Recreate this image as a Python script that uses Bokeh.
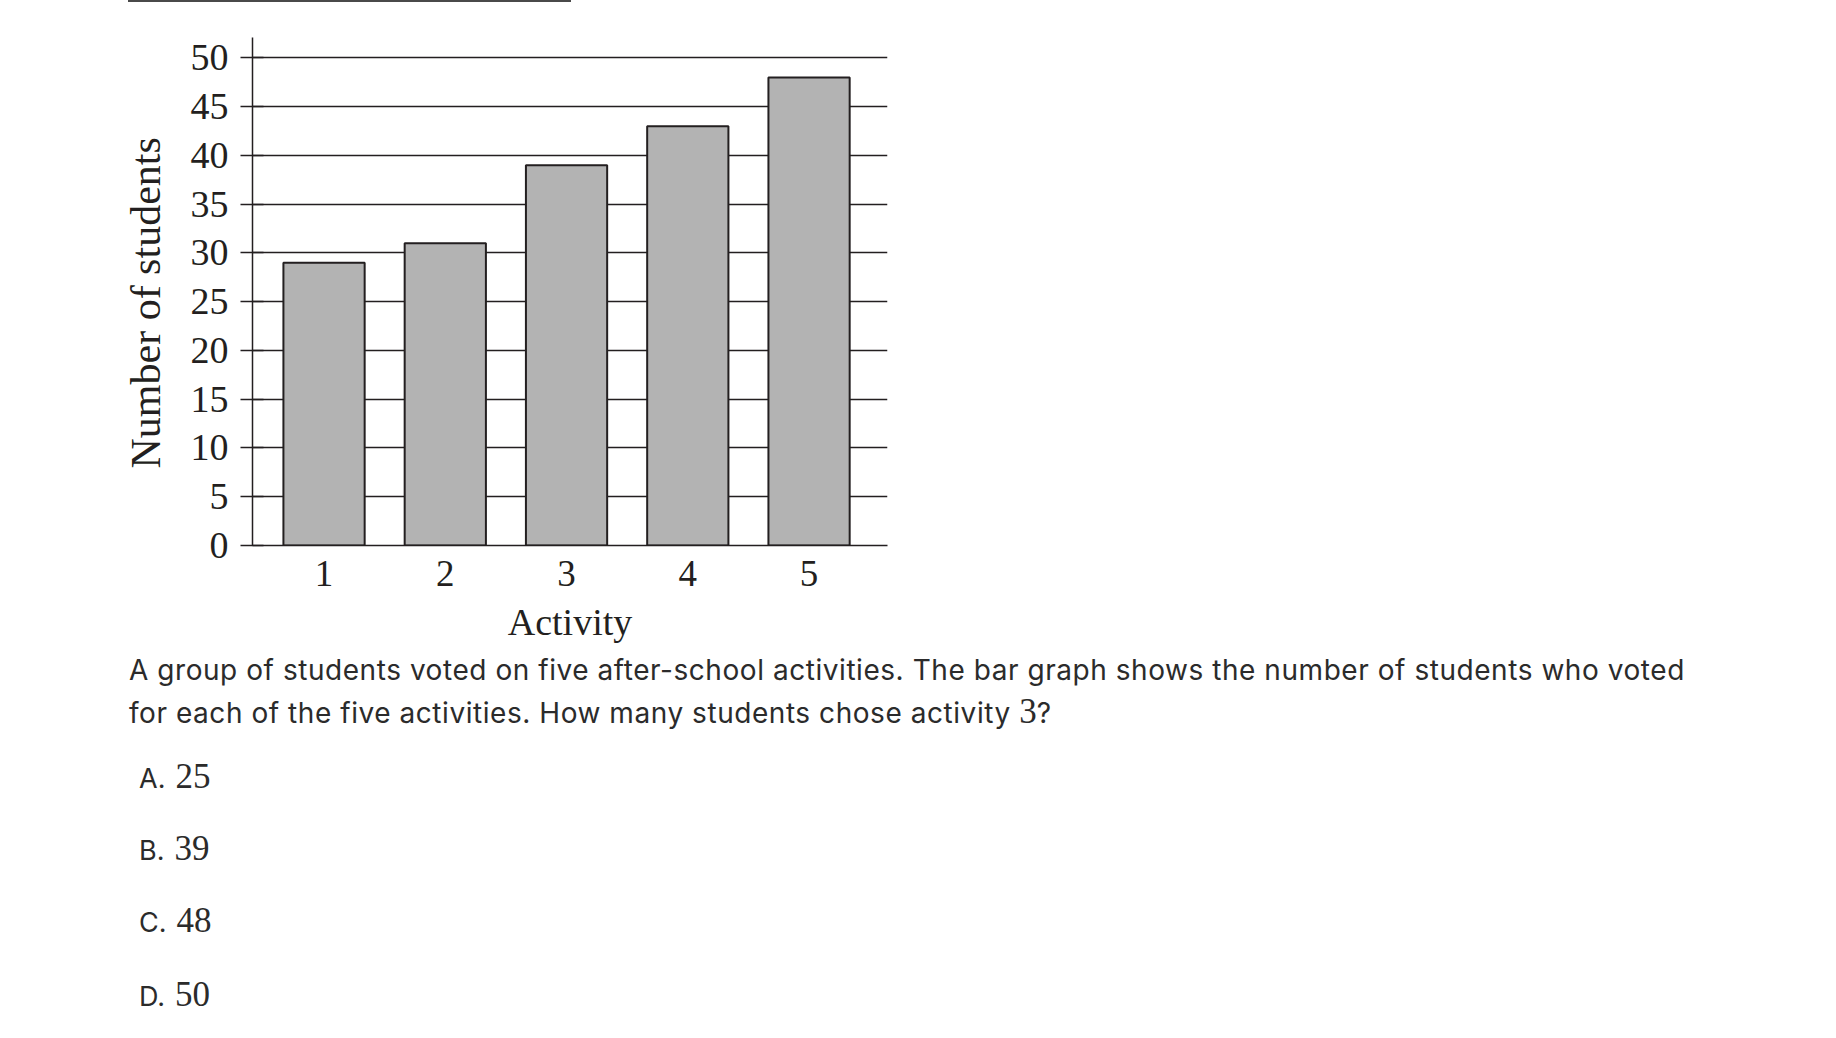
from bokeh.plotting import figure
from bokeh.models import Div, FixedTicker, Range1d, Title
from bokeh.layouts import column
from bokeh.embed import file_html
from bokeh.resources import INLINE

# ---- data ----
categories = ["1", "2", "3", "4", "5"]
votes = [29, 31, 39, 43, 48]
y_ticks = [0, 5, 10, 15, 20, 25, 30, 35, 40, 45, 50]
x_label = "Activity"
y_label = "Number of students"

question_line1 = ("A group of students voted on five after-school activities. "
                  "The bar graph shows the number of students who voted")
question_line2 = "for each of the five activities. How many students chose activity "
question_math = "3"
question_end = "?"
answer_letters = ["A.", "B.", "C.", "D."]
answer_values = ["25", "39", "48", "50"]

x_pos = list(range(1, len(categories) + 1))

SERIF = "Liberation Serif"
INK = "#231f20"

# ---- top rule ----
top_rule = Div(text="", width=443, height=2, margin=(0, 0, 0, 128),
               styles={"background-color": "#4a4a4a"})

# ---- chart ----
p = figure(
    width=1000, height=643,
    x_range=Range1d(0.41, 5.647), y_range=Range1d(0, 52.1),
    output_backend="svg", toolbar_location=None,
    min_border_left=252, min_border_right=113,
    min_border_top=35, min_border_bottom=100,
)
p.outline_line_color = None
p.background_fill_color = "white"
p.border_fill_color = "white"

p.vbar(x=x_pos, top=votes, width=0.67, bottom=0,
       fill_color="#b3b3b3", line_color=INK, line_width=2)

p.xgrid.grid_line_color = None
p.ygrid.grid_line_color = INK
p.ygrid.grid_line_width = 1.5
p.ygrid.ticker = FixedTicker(ticks=y_ticks)

ya = p.yaxis[0]
ya.ticker = FixedTicker(ticks=y_ticks)
ya.axis_line_color = INK
ya.axis_line_width = 1.5
ya.major_tick_line_color = INK
ya.major_tick_line_width = 1.5
ya.major_tick_in = 11
ya.major_tick_out = 12
ya.minor_tick_line_color = None
ya.major_label_standoff = 12
ya.major_label_text_font = SERIF
ya.major_label_text_font_size = "38px"
ya.major_label_text_color = INK

# y-axis title as a side title (offset works with align="left")
ytitle = Title(text=y_label, align="left", offset=77, standoff=37,
               text_font=SERIF, text_font_size="42px", text_font_style="normal",
               text_color=INK)
p.add_layout(ytitle, "left")

xa = p.xaxis[0]
xa.ticker = FixedTicker(ticks=x_pos)
xa.major_label_overrides = {x: c for x, c in zip(x_pos, categories)}
xa.axis_line_color = INK
xa.axis_line_width = 1.5
xa.major_tick_line_color = None
xa.major_tick_in = 0
xa.major_tick_out = 0
xa.minor_tick_line_color = None
xa.major_label_standoff = 15
xa.major_label_text_font = SERIF
xa.major_label_text_font_size = "37px"
xa.major_label_text_color = INK
xa.axis_label = x_label
xa.axis_label_text_font = SERIF
xa.axis_label_text_font_size = "38px"
xa.axis_label_text_font_style = "normal"
xa.axis_label_text_color = INK
xa.axis_label_standoff = 12

# ---- question text ----
math_style = f"font-family:'{SERIF}',serif;font-size:35px;letter-spacing:0;"
parts = ['<div style="position:relative;width:1836px;height:393px;'
         'font-family:Inter,sans-serif;color:#2b2b2b;">']
parts.append('<div style="position:absolute;left:129px;top:4px;font-size:28px;letter-spacing:0.55px;'
             'line-height:42px;white-space:nowrap;">'
             f'{question_line1}<br>{question_line2}'
             f'<span style="{math_style}">{question_math}</span>{question_end}</div>')
tops = [111, 183, 255, 329]
for letter, val, t in zip(answer_letters, answer_values, tops):
    parts.append(f'<div style="position:absolute;left:139px;top:{t}px;font-size:27px;'
                 f'line-height:42px;white-space:nowrap;">{letter}'
                 f'<span style="{math_style}margin-left:10px;">{val}</span></div>')
parts.append('</div>')
text_div = Div(text="".join(parts), width=1836, height=393, margin=0)

layout = column(top_rule, p, text_div, spacing=0)
open("out.html", "w").write(file_html(layout, INLINE))
